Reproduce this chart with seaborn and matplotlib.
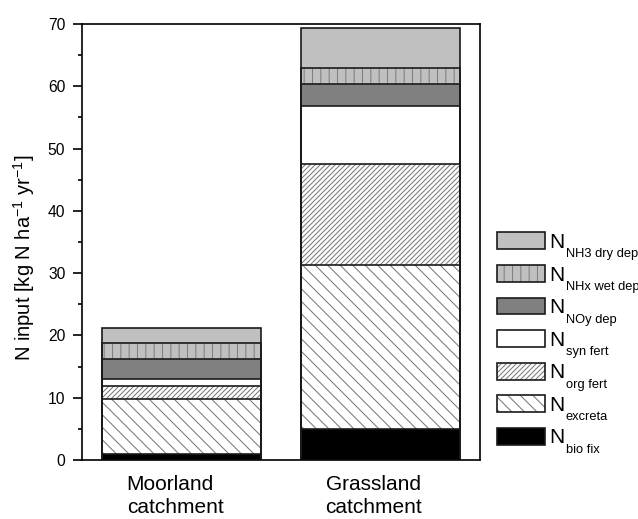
import numpy as np
import pandas as pd
import matplotlib
matplotlib.use('Agg')
import matplotlib.pyplot as plt
import matplotlib.transforms as mtransforms
import seaborn as sns
from matplotlib.patches import Patch
from matplotlib.ticker import MultipleLocator

# N input per source (kg N / ha / yr)
catchments = ['Moorland\ncatchment', 'Grassland\ncatchment']
bio_fix = [1.0, 5.0]
excreta = [8.8, 26.3]
org_fert = [2.1, 16.3]
syn_fert = [1.1, 9.2]
noy_dep = [3.2, 3.6]
nhx_wet_dep = [2.6, 2.5]
nh3_dry_dep = [2.4, 6.4]

sns.set_style('ticks')
plt.rcParams['font.family'] = ['Liberation Sans', 'DejaVu Sans']
plt.rcParams['mathtext.fontset'] = 'custom'
plt.rcParams['mathtext.rm'] = 'Liberation Sans'
plt.rcParams['hatch.linewidth'] = 0.5
for key in ['text.color', 'axes.labelcolor', 'xtick.color', 'ytick.color']:
    plt.rcParams[key] = 'black'

# bottom to top: (values, face, hatch, hatch colour, subscript)
layers = [
    (bio_fix, 'black', None, 'black', 'bio fix'),
    (excreta, 'white', '\\' * 4, '#7a7a7a', 'excreta'),
    (org_fert, 'white', '/' * 10, '#7a7a7a', 'org fert'),
    (syn_fert, 'white', None, 'white', 'syn fert'),
    (noy_dep, '#808080', None, '#808080', 'NOy dep'),
    (nhx_wet_dep, '#c0c0c0', '|||', '#808080', 'NHx wet dep'),
    (nh3_dry_dep, '#c0c0c0', None, '#c0c0c0', 'NH3 dry dep'),
]

df = pd.DataFrame({'catchment': catchments})
cum = np.zeros(len(catchments))
cols = []
for i, (vals, *_rest) in enumerate(layers):
    cum = cum + np.array(vals)
    df[f'cum{i}'] = cum
    cols.append(f'cum{i}')

dpi = 150
fig = plt.figure(figsize=(638 / dpi, 519 / dpi), dpi=dpi)
ax = fig.add_axes([82 / 638, 59 / 519, 398 / 638, 436 / 519])

outline = '#1a1a1a'
# draw cumulative totals from the top layer down so each covers the next
for i in reversed(range(len(layers))):
    vals, face, hatch, hcol, sub = layers[i]
    sns.barplot(data=df, x='catchment', y=cols[i], color=face, hatch=hatch,
                edgecolor=hcol, linewidth=0, saturation=1, width=0.8,
                errorbar=None, ax=ax)
for i in reversed(range(len(layers))):
    sns.barplot(data=df, x='catchment', y=cols[i], fill=False, color=outline,
                linewidth=0.8, width=0.8, errorbar=None, ax=ax)

ax.set_xlim(-0.5, 1.5)
ax.set_ylim(0, 70)
ax.yaxis.set_major_locator(MultipleLocator(10))
ax.yaxis.set_minor_locator(MultipleLocator(5))
ax.tick_params(axis='y', which='major', length=4.3, width=0.8, labelsize=7.5, pad=3.7)
ax.tick_params(axis='y', which='minor', length=1.8, width=0.8)
ax.tick_params(axis='x', length=0, labelsize=10, pad=7)
shift = mtransforms.ScaledTranslation(-6.5 / dpi, 0, fig.dpi_scale_trans)
for lbl in ax.get_xticklabels():
    lbl.set_multialignment('left')
    lbl.set_linespacing(1.3)
    lbl.set_transform(lbl.get_transform() + shift)
for sp in ax.spines.values():
    sp.set_visible(True)
    sp.set_linewidth(0.8)
    sp.set_color('black')
ax.set_xlabel('')
ax.set_ylabel(r'N input [kg N ha$^{\mathregular{-1}}$ yr$^{\mathregular{-1}}$]', fontsize=9.7)
ax.yaxis.set_label_coords(-0.113, 0.464)

handles = []
for vals, face, hatch, hcol, sub in reversed(layers):
    h = (Patch(facecolor=face, hatch=hatch, edgecolor=hcol, linewidth=0),
         Patch(fill=False, edgecolor=outline, linewidth=0.8))
    handles.append(h)
subs = [layer[4] for layer in reversed(layers)]

leg = fig.legend(handles, ['N'] * len(handles), loc='center left',
                 bbox_to_anchor=(497 / 638, 0.345), frameon=False, fontsize=10,
                 handlelength=2.3, handleheight=0.87, labelspacing=0.62,
                 handletextpad=0.2, borderpad=0, borderaxespad=0)

# small subscripts next to each big "N"
fig.canvas.draw()
renderer = fig.canvas.get_renderer()
for t, sub in zip(leg.get_texts(), subs):
    bb = t.get_window_extent(renderer)
    lp_d = renderer.get_text_width_height_descent('lp', t.get_fontproperties(), ismath=False)[2]
    baseline = bb.y0 + lp_d
    fig.text((bb.x1 + 1.5) / fig.bbox.width, (baseline - 9.3) / fig.bbox.height, sub,
             fontsize=6.2, ha='left', va='baseline')

fig.savefig('out.png', dpi=dpi)
